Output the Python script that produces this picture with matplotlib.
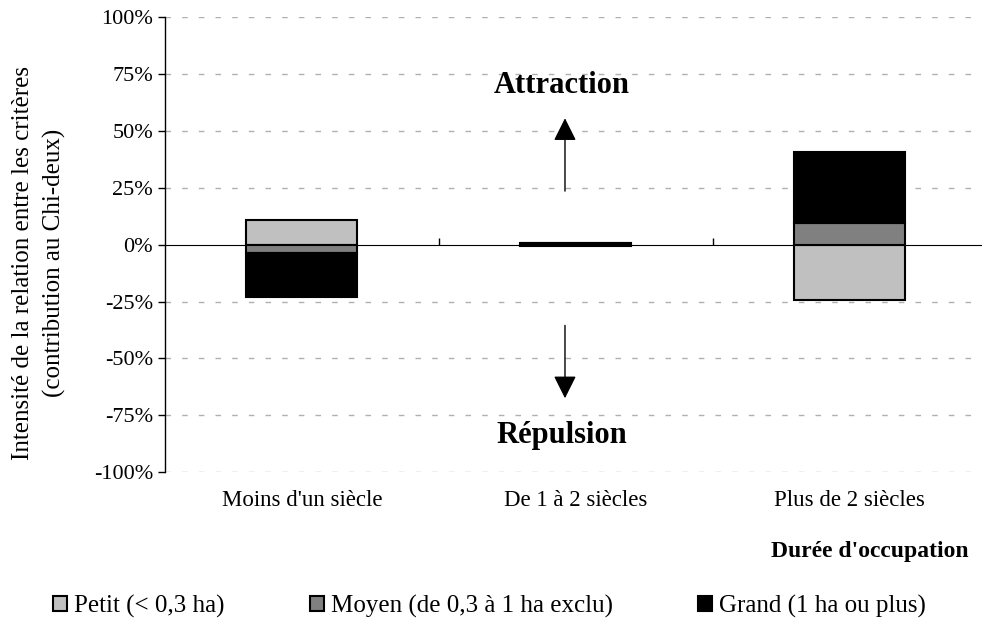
import matplotlib
matplotlib.use('Agg')
import matplotlib.pyplot as plt
from matplotlib.ticker import PercentFormatter
import numpy as np

plt.rcParams['font.family'] = ['Liberation Serif', 'DejaVu Serif']
plt.rcParams['axes.unicode_minus'] = False

# categories and values (% contribution to chi-square, signed)
categories = ["Moins d'un siècle", "De 1 à 2 siècles", "Plus de 2 siècles"]
series_names = ['Petit (< 0,3 ha)', 'Moyen (de 0,3 à 1 ha exclu)', 'Grand (1 ha ou plus)']
petit = [11.0, 0.6, -24.5]
moyen = [-3.5, 0.0, 9.5]
grand = [-19.5, -0.6, 31.0]
colors = ['#c0c0c0', '#808080', '#000000']

fig = plt.figure(figsize=(9.82, 6.28), dpi=100)
ax = fig.add_axes([0.168, 0.248, 0.837, 0.725])

x = np.arange(len(categories))
pos_bottom = np.zeros(len(categories))
neg_bottom = np.zeros(len(categories))
for name, vals, col in zip(series_names, [petit, moyen, grand], colors):
    vals = np.array(vals)
    bottom = np.where(vals >= 0, pos_bottom, neg_bottom)
    ax.bar(x, vals, bottom=bottom, width=0.405, color=col, edgecolor='black',
           linewidth=1.5, label=name, zorder=3)
    pos_bottom += np.where(vals >= 0, vals, 0)
    neg_bottom += np.where(vals < 0, vals, 0)

ax.set_xlim(-0.5, 2.5)
ax.set_ylim(-100, 100)
ax.set_yticks(np.arange(-100, 101, 25))
ax.yaxis.set_major_formatter(PercentFormatter(decimals=0))
ax.tick_params(axis='y', labelsize=16, length=5, width=1, direction='out')
for yv in np.arange(-100, 101, 25):
    if yv != 0:
        ax.axhline(yv, color='#b0b0b0', linestyle=(0, (4, 8)), linewidth=1, zorder=1)

ax.set_xticks(x)
ax.set_xticklabels(categories, fontsize=16.5)
ax.tick_params(axis='x', length=0, pad=13)

for s in ['top', 'right', 'bottom']:
    ax.spines[s].set_visible(False)
ax.spines['left'].set_linewidth(1)

# zero line with category separators
sec = ax.secondary_xaxis(0.5)
sec.set_xticks([0.5, 1.5])
sec.set_xticklabels(['', ''])
sec.tick_params(length=5, width=1, direction='out')
sec.spines['bottom'].set_linewidth(1)

# attraction / repulsion annotations
arrow_style = dict(arrowstyle='-|>,head_length=1.0,head_width=0.5',
                   color='black', lw=1, mutation_scale=14, shrinkA=0, shrinkB=0)
ax.annotate('', xy=(0.96, 55.5), xytext=(0.96, 23.5), arrowprops=arrow_style, zorder=4)
ax.annotate('', xy=(0.96, -67.5), xytext=(0.96, -35.5), arrowprops=arrow_style, zorder=4)
ax.text(0.95, 70, 'Attraction', ha='center', va='center', fontsize=22, fontweight='bold')
ax.text(0.95, -84, 'Répulsion', ha='center', va='center', fontsize=22, fontweight='bold')

fig.text(0.040, 0.581, 'Intensité de la relation entre les critères\n(contribution au Chi-deux)',
         rotation=90, ha='center', va='center', fontsize=18, linespacing=1.5)
fig.text(0.986, 0.122, "Durée d'occupation", ha='right', va='center', fontsize=17,
         fontweight='bold')

fig.legend(loc='center left', bbox_to_anchor=(0.054, 0.035), ncol=3, frameon=False,
           fontsize=18, handlelength=0.55, handleheight=0.55, handletextpad=0.3,
           columnspacing=3.4, borderaxespad=0, borderpad=0)

fig.savefig('out.png', dpi=100)
